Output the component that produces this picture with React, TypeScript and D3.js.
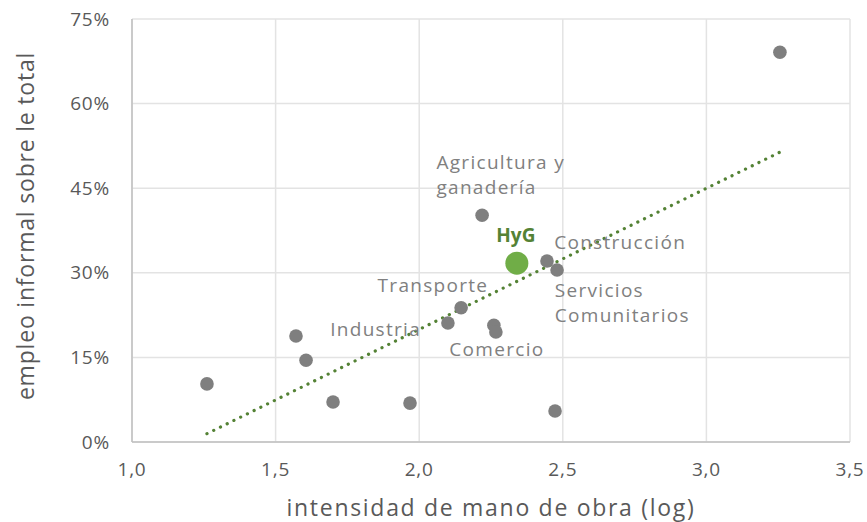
import React from "react";
import * as d3 from "d3";

const intensity = [1.261, 1.571, 1.606, 1.70, 1.968, 2.10, 2.146, 2.219, 2.26, 2.267, 2.34, 2.445, 2.48, 2.473, 3.256];
const informal = [10.3, 18.8, 14.5, 7.1, 6.9, 21.1, 23.8, 40.2, 20.7, 19.5, 31.7, 32.1, 30.5, 5.5, 69.1];
const isHyG = [false, false, false, false, false, false, false, false, false, false, true, false, false, false, false];

const xTicks = [1.0, 1.5, 2.0, 2.5, 3.0, 3.5];
const yTicks = [0, 15, 30, 45, 60, 75];

const sectorLabels = [
  { lines: ["Agricultura y", "ganadería"], x: 2.06, y: 48.4 },
  { lines: ["Construcción"], x: 2.47, y: 34.2 },
  { lines: ["Transporte"], x: 1.855, y: 26.6 },
  { lines: ["Industria"], x: 1.69, y: 18.8 },
  { lines: ["Comercio"], x: 2.105, y: 15.2 },
  { lines: ["Servicios", "Comunitarios"], x: 2.472, y: 25.7 },
];

const W = 867, H = 522;
const M = { left: 132, right: 17, top: 19, bottom: 80 };
const FONT = "'Open Sans', Lato, sans-serif";

export default function App() {
  const x = d3.scaleLinear().domain([1, 3.5]).range([M.left, W - M.right]);
  const y = d3.scaleLinear().domain([0, 75]).range([H - M.bottom, M.top]);

  const mx = d3.mean(intensity)!;
  const my = d3.mean(informal)!;
  let sxy = 0, sxx = 0;
  intensity.forEach((v, i) => { sxy += (v - mx) * (informal[i] - my); sxx += (v - mx) ** 2; });
  const slope = sxy / sxx;
  const icpt = my - slope * mx;
  const [x0, x1] = d3.extent(intensity) as [number, number];
  const line = d3.line<number>().x((d) => x(d)).y((d) => y(icpt + slope * d));

  const fmtX = (v: number) => v.toFixed(1).replace(".", ",");

  return (
    <svg width={W} height={H} style={{ position: "absolute", left: 0, top: 0, background: "#fff" }} fontFamily={FONT}>
      {xTicks.map((t) => (
        <line key={"gx" + t} x1={x(t)} x2={x(t)} y1={y(0)} y2={y(75)} stroke="#e3e3e3" strokeWidth={1.5} />
      ))}
      {yTicks.map((t) => (
        <line key={"gy" + t} x1={x(1)} x2={x(3.5)} y1={y(t)} y2={y(t)} stroke="#e3e3e3" strokeWidth={1.5} />
      ))}
      <line x1={x(1)} x2={x(1)} y1={y(0)} y2={y(75)} stroke="#bfbfbf" strokeWidth={1.5} />
      <line x1={x(1)} x2={x(3.5)} y1={y(0)} y2={y(0)} stroke="#bfbfbf" strokeWidth={1.5} />

      {yTicks.map((t) => (
        <text key={"ty" + t} x={x(1) - 22} y={y(t)} dy="0.35em" textAnchor="end" fontSize={19} fill="#595959" letterSpacing={0.8}>
          {t}%
        </text>
      ))}
      {xTicks.map((t) => (
        <text key={"tx" + t} x={x(t)} y={y(0) + 34} textAnchor="middle" fontSize={19} fill="#595959" letterSpacing={0.8}>
          {fmtX(t)}
        </text>
      ))}

      <text x={491} y={516} textAnchor="middle" fontSize={23} fill="#595959" letterSpacing={1.7}>
        intensidad de mano de obra (log)
      </text>
      <text transform={`translate(34, 226) rotate(-90)`} textAnchor="middle" fontSize={23} fill="#595959" letterSpacing={0.8}>
        empleo informal sobre le total
      </text>

      <path d={line([x0, x1]) || ""} fill="none" stroke="#548235" strokeWidth={3.2} strokeDasharray="0.1 7.4" strokeLinecap="round" />

      {intensity.map((v, i) =>
        isHyG[i] ? null : <circle key={"p" + i} cx={x(v)} cy={y(informal[i])} r={6.8} fill="#7f7f7f" />
      )}
      {intensity.map((v, i) =>
        isHyG[i] ? (
          <g key={"h" + i}>
            <circle cx={x(v)} cy={y(informal[i])} r={11.5} fill="#70ad47" />
            <text x={x(v) - 1} y={y(informal[i]) - 21} textAnchor="middle" fontSize={19} fontWeight={700} fill="#548235">HyG</text>
          </g>
        ) : null
      )}

      {sectorLabels.map((l, i) => (
        <text key={"l" + i} x={x(l.x)} y={y(l.y)} fontSize={19} fill="#808080" letterSpacing={1.3}>
          {l.lines.map((s, j) => (
            <tspan key={j} x={x(l.x)} dy={j === 0 ? 0 : 25}>{s}</tspan>
          ))}
        </text>
      ))}
    </svg>
  );
}
